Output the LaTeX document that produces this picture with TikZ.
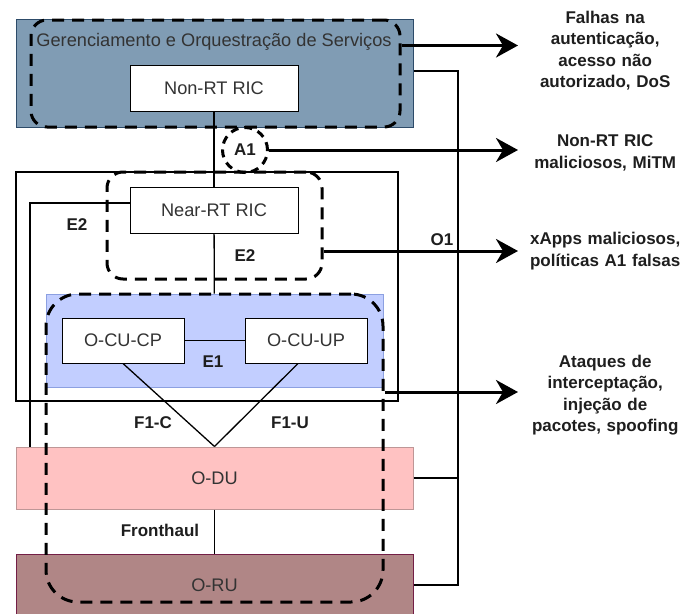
\documentclass[tikz,border=0pt]{standalone}
\usepackage{fontspec}
\setmainfont{Liberation Sans}
\usetikzlibrary{arrows.meta}
\definecolor{smofill}{RGB}{128,156,180}
\definecolor{smoline}{RGB}{45,75,105}
\definecolor{cufill}{RGB}{194,206,255}
\definecolor{culine}{RGB}{140,160,225}
\definecolor{dufill}{RGB}{255,194,194}
\definecolor{duline}{RGB}{190,150,150}
\definecolor{rufill}{RGB}{176,134,134}
\definecolor{ruline}{RGB}{115,30,70}
\definecolor{boxtext}{RGB}{51,51,51}
\definecolor{labeltext}{RGB}{30,30,30}
\begin{document}
\begin{tikzpicture}[x=1pt,y=-1pt,font=\fontsize{17}{21.5}\selectfont]
                \useasboundingbox (0,0) rectangle (693,613);
                \coordinate (E2bus) at (30,0);
                \coordinate (O1bus) at (458,0);
                \begin{scope}[every node/.style={draw,line width=1pt,inner sep=0,text=boxtext,font=\fontsize{18.2}{22}\selectfont,minimum width=168pt,minimum height=46pt,fill=white}]
                        \node[fill=smofill,draw=smoline,minimum width=397pt,minimum height=108pt] (SMO) at (214.5,73) {};
                        \node[draw=none,fill=none,minimum width=0pt,minimum height=0pt] (SMOt) at (214,42) {Gerenciamento e Orquestração de Serviços};
                        \node (NonRT) at (214,88) {Non-RT RIC};
                        \node[line width=1.5pt,minimum width=382pt,minimum height=229pt] (RIC) at (207,286.5) {};
                        \node (NearRT) at (214,210) {Near-RT RIC};
                        \node[fill=cufill,draw=culine,minimum width=337pt,minimum height=93pt] (CU) at (214.5,340.5) {};
                        \node[minimum width=122pt,minimum height=45pt] (CP) at (123,340.5) {O-CU-CP};
                        \node[minimum width=122pt,minimum height=45pt] (UP) at (306,340.5) {O-CU-UP};
                        \node[fill=dufill,draw=duline,minimum width=397pt,minimum height=62pt] (DU) at (214.5,478) {O-DU};
                        \node[fill=rufill,draw=ruline,minimum width=397pt,minimum height=62pt] (RU) at (214.5,585) {O-RU};
                \end{scope}
                \begin{scope}[every node/.style={font=\fontsize{17}{21.5}\selectfont\bfseries,text=labeltext,inner sep=0}]
                        \node (E2a) at (77,225) {E2};
                        \node (E2b) at (245,256) {E2};
                        \node (E1) at (213,362) {E1};
                        \node (F1C) at (153,423) {F1-C};
                        \node (F1U) at (290,423) {F1-U};
                        \node (Front) at (160,530) {Fronthaul};
                        \node (O1) at (442,240) {O1};
                \end{scope}
                \begin{scope}[every node/.style={font=\fontsize{17}{21.5}\selectfont\bfseries,text=labeltext,inner sep=0,anchor=west,text width=174pt,align=center}]
                        \node (T1) at (518,50.5) {Falhas na\\autenticação,\\acesso não\\autorizado, DoS};
                        \node (T2) at (518,153) {Non-RT RIC\\maliciosos, MiTM};
                        \node (T3) at (518,251) {xApps maliciosos,\\políticas A1 falsas};
                        \node (T4) at (518,395) {Ataques de\\interceptação,\\injeção de\\pacotes, spoofing};
                \end{scope}
                \begin{scope}[every path/.style={line width=1.3pt}]
                        \path (NonRT) edge (NearRT);
                        \path (NearRT) edge (CU);
                        \path (CP) edge (UP);
                        \path (CP.south) edge (DU.north);
                        \path ([xshift=-8pt]UP.south) edge (DU.north);
                        \path (DU) edge (RU);
                        \draw ([yshift=7pt]NearRT.west) -| (E2bus |- DU.north);
                        \draw ([yshift=2pt]SMO.east) -| (O1bus |- RU.east) -- (RU.east);
                        \draw (DU.east) -- (DU.east -| O1bus);
                \end{scope}
                \begin{scope}[every node/.style={draw,line width=3pt,dash pattern=on 12pt off 8pt,inner sep=0}]
                        \node[rounded corners=16pt,minimum width=369pt,minimum height=107pt] (SMOd) at (215.5,73.5) {};
                        \node[circle,minimum size=45pt,dash pattern=on 8pt off 6pt,font=\fontsize{17}{21.5}\selectfont\bfseries,text=labeltext] (A1) at (245,150) {A1};
                        \node[rounded corners=16pt,minimum width=215pt,minimum height=107pt] (Neard) at (214.5,225.5) {};
                        \node[rounded corners=32pt,minimum width=337pt,minimum height=308pt] (CUd) at (214.5,448) {};
                \end{scope}
                \begin{scope}[every path/.style={line width=3pt,->,>={Stealth[length=22pt,width=24pt,inset=7pt]}}]
                        \path ([yshift=5pt]T1.west -| SMOd.east) edge ([yshift=5pt]T1.west);
                        \path (A1.east) edge (A1.east -| T2.west);
                        \path (Neard.east |- T3.west) edge (T3.west);
                        \path ([yshift=3pt]T4.west -| CUd.east) edge ([yshift=3pt]T4.west);
                \end{scope}
        \end{tikzpicture}
\end{document}
